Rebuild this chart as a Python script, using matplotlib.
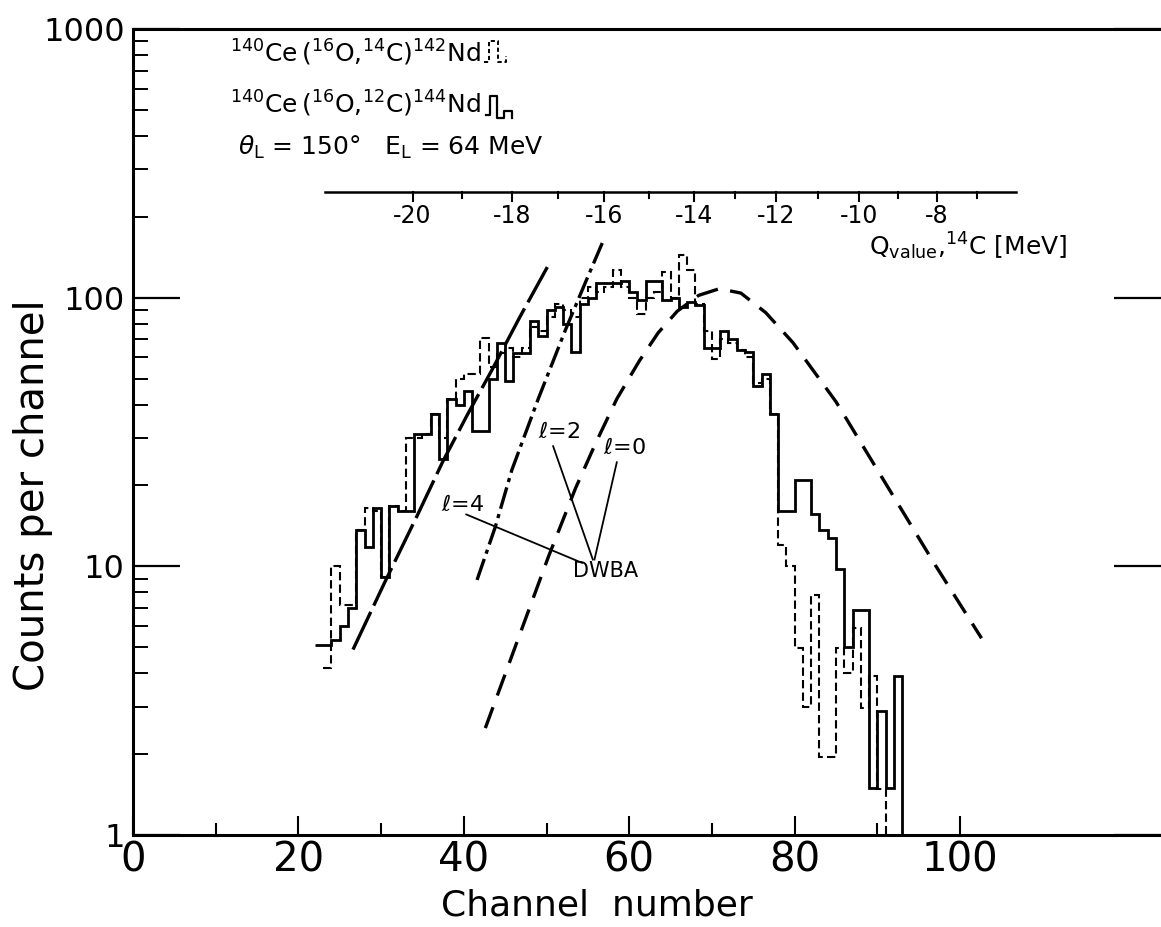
import numpy as np
import matplotlib
matplotlib.use('Agg')
import matplotlib.pyplot as plt
from matplotlib.transforms import blended_transform_factory
from matplotlib.ticker import FixedLocator, FixedFormatter, NullFormatter

plt.rcParams['font.family'] = ['DejaVu Sans']
plt.rcParams['mathtext.fontset'] = 'dejavusans'
plt.rcParams['lines.scale_dashes'] = False

# ---------------- data ----------------
# 140Ce(16O,12C)144Nd  -- solid histogram, one value per channel
solid_first_channel = 22
solid_counts = [5.1, 5.1, 5.3, 6.0, 7.0, 13.6, 11.8, 16.5, 9.1, 16.7,
                16.0, 16.0, 31, 31, 37, 25, 42, 40, 45, 32,
                32, 50, 68, 49, 62, 62, 82, 72, 90, 92,
                80, 63, 95, 100, 113, 113, 113, 115, 105, 98,
                115, 115, 98, 100, 92, 96, 94, 65, 65, 75,
                70, 64, 63, 47, 52, 37, 16, 16, 21, 21,
                15.7, 13.6, 12.7, 9.8, 5.0, 6.9, 6.9, 1.5, 2.9, 1.5,
                3.9, 0]
# 140Ce(16O,14C)142Nd  -- dashed histogram
dashed_first_channel = 23
dashed_counts = [4.2, 10, 7.2, 7.2, 13.6, 16.5, 16, 9.1, 16.7, 16,
                 30, 30, 31, 37, 30, 42, 50, 52, 52, 71,
                 55, 62, 65, 60, 65, 78, 75, 85, 95, 90,
                 85, 100, 110, 105, 110, 127, 110, 100, 87, 100,
                 105, 125, 100, 144, 127, 95, 75, 59, 70, 68,
                 64, 60, 48, 50, 37, 12, 10, 4.95, 3.0, 7.8,
                 1.95, 1.95, 4.95, 4.0, 5.9, 2.96, 3.9, 1.48, 0]

# DWBA curves
l4_channel = [26.6, 30.5, 34.3, 37.5, 40.5, 43.4, 46.8, 50.1]
l4_counts = [4.9, 8.8, 15.3, 24.7, 37, 53.8, 85, 130]
l2_channel = [41.6, 43.8, 45.8, 49.0, 52.3, 54.6, 56.9]
l2_counts = [8.9, 14.0, 22.8, 42, 76, 112, 164]
l0_channel = [42.6, 46.5, 50.3, 53.5, 56.0, 58.5, 61.2, 63.5, 65.8,
              68.4, 70.9, 73.5, 76.5, 79.8, 85.0, 91.5, 97.1, 102.6]
l0_counts = [2.5, 5.3, 11.0, 19.5, 29, 42, 58, 74, 89,
             102, 108, 104, 88, 68, 41, 19.2, 10, 5.4]

# Q-value scale (top inner axis)
q_tick_labels = ['-20', '-18', '-16', '-14', '-12', '-10', '-8']
q_tick_channel = [33.8, 45.8, 57.0, 67.8, 77.7, 87.8, 97.2]
q_minor_channel = [39.8, 51.4, 62.4, 72.8, 82.8, 92.5, 102.0]
q_axis_span = [23.2, 106.8]

x_major = [0, 20, 40, 60, 80, 100]
x_minor = [10, 30, 50, 70, 90]
y_major = [1, 10, 100, 1000]
y_major_labels = ['1', '10', '100', '1000']

# ---------------- figure ----------------
W, H = 1161, 927
fig = plt.figure(figsize=(W / 100, H / 100), dpi=100)
ax = fig.add_axes([133 / W, 92 / H, 1028 / W, 806 / H])
ax.set_yscale('log')
ax.set_xlim(0, 124.3)
ax.set_ylim(1, 1000)

# histograms
s_vals = np.clip(np.array(solid_counts, float), 0.3, None)
s_edges = solid_first_channel + np.arange(len(s_vals) + 1)
ax.stairs(s_vals, s_edges, baseline=None, color='black', lw=2.0)

d_vals = np.clip(np.array(dashed_counts, float), 0.3, None)
d_edges = dashed_first_channel + np.arange(len(d_vals) + 1)
ax.stairs(d_vals, d_edges, baseline=None, color='black', lw=1.5,
          linestyle=(0, (6, 3)))

# DWBA curves
ax.plot(l4_channel, l4_counts, color='black', lw=2.4,
        linestyle=(0, (30, 5)))
ax.plot(l2_channel, l2_counts, color='black', lw=2.4,
        linestyle=(0, (16, 4, 3, 4)))
ax.plot(l0_channel, l0_counts, color='black', lw=2.4,
        linestyle=(0, (16, 9)))

# Q-value axis
tr = blended_transform_factory(ax.transData, ax.transAxes)
yq = 0.798
ax.plot(q_axis_span, [yq, yq], transform=tr, color='black', lw=1.8,
        clip_on=False)
for c, lab in zip(q_tick_channel, q_tick_labels):
    ax.plot([c, c], [yq, yq - 0.012], transform=tr, color='black', lw=1.5)
    ax.text(c, yq - 0.015, lab, transform=tr, ha='center', va='top',
            fontsize=17)
for c in q_minor_channel:
    ax.plot([c, c], [yq, yq - 0.008], transform=tr, color='black', lw=1.5)
ax.text(89.0, 0.731, r'Q$_{\mathrm{value}}$,$^{14}$C [MeV]', transform=tr,
        ha='left', va='center', fontsize=18)

# labels for curves
ax.text(39.8, 17.0, r'$\ell$=4', fontsize=16, ha='center', va='center')
ax.text(51.5, 31.6, r'$\ell$=2', fontsize=16, ha='center', va='center')
ax.text(59.4, 27.6, r'$\ell$=0', fontsize=16, ha='center', va='center')
ax.text(57.2, 9.6, 'DWBA', fontsize=15, ha='center', va='center')
ax.plot([40.3, 54.3], [15.6, 10.3], color='black', lw=1.3)
ax.plot([50.8, 55.6], [28.0, 10.6], color='black', lw=1.3)
ax.plot([58.5, 55.8], [24.4, 10.6], color='black', lw=1.3)

# header text
fig.text(230 / W, 1 - 53 / H,
         r'$^{140}$Ce$\,$($^{16}$O,$^{14}$C)$^{142}$Nd', fontsize=18,
         ha='left', va='center')
fig.text(230 / W, 1 - 104 / H,
         r'$^{140}$Ce$\,$($^{16}$O,$^{12}$C)$^{144}$Nd', fontsize=18,
         ha='left', va='center')
fig.text(238 / W, 1 - 147 / H,
         r'$\theta_{\mathrm{L}}$ = 150°   E$_{\mathrm{L}}$ = 64 MeV',
         fontsize=18, ha='left', va='center')

# small legend glyphs
def glyph(px, py, **kw):
    fig.add_artist(plt.Line2D(np.array(px) / W, 1 - np.array(py) / H,
                              transform=fig.transFigure, color='black', **kw))

glyph([484, 489, 489, 498, 498, 506, 506], [62, 62, 41, 41, 62, 62, 56],
      lw=1.4, linestyle=(0, (3, 2)))
glyph([486, 490, 490, 497, 497, 504, 504, 512, 512],
      [115, 115, 96, 96, 118, 118, 111, 111, 118], lw=1.6)

# axes styling
for side in ['left', 'bottom', 'top']:
    ax.spines[side].set_linewidth(2.2)
ax.spines['right'].set_visible(False)

ax.xaxis.set_major_locator(FixedLocator(x_major))
ax.xaxis.set_minor_locator(FixedLocator(x_minor))
ax.xaxis.set_major_formatter(FixedFormatter([str(v) for v in x_major]))
ax.xaxis.set_minor_formatter(NullFormatter())
ax.yaxis.set_major_locator(FixedLocator(y_major))
ax.yaxis.set_major_formatter(FixedFormatter(y_major_labels))
ax.yaxis.set_minor_formatter(NullFormatter())

ax.tick_params(axis='x', which='major', direction='in', length=14, width=1.5,
               labelsize=29, pad=4, top=False)
ax.tick_params(axis='x', which='minor', direction='in', length=9, width=1.5,
               top=False)
ax.tick_params(axis='y', which='major', direction='in', length=34, width=1.6,
               labelsize=23, pad=6, left=True, right=True)
ax.tick_params(axis='y', which='minor', direction='in', length=11, width=1.4,
               left=True, right=False)

fig.text(33 / W, 1 - 495 / H, 'Counts per channel', rotation=90,
         fontsize=29, ha='center', va='center')
fig.text(597 / W, 1 - 905 / H, 'Channel  number', fontsize=26,
         ha='center', va='center')

fig.savefig('out.png', dpi=100)
